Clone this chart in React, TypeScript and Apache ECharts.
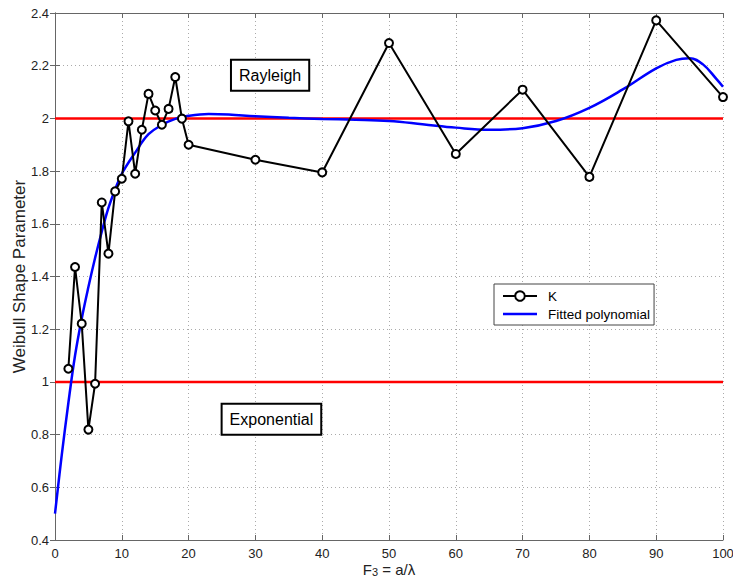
import React, { useEffect, useRef } from "react";
import * as echarts from "echarts";

const kX = [2, 3, 4, 5, 6, 7, 8, 9, 10, 11, 12, 13, 14, 15, 16, 17, 18, 19, 20, 30, 40, 50, 60, 70, 80, 90, 100];
const kY = [1.05, 1.436, 1.221, 0.819, 0.993, 1.681, 1.487, 1.723, 1.771, 1.989, 1.79, 1.957, 2.093, 2.03, 1.976, 2.036, 2.157, 1.999, 1.9, 1.843, 1.795, 2.286, 1.865, 2.109, 1.778, 2.372, 2.081];

const fitX = [0, 1, 2, 3, 4, 5, 6, 7, 8, 9, 10, 12, 14, 16, 18, 20, 23, 26, 30, 35, 40, 45, 50, 55, 60, 65, 70, 75, 80, 85, 90, 93, 95, 97, 99, 100];
const fitY = [0.5, 0.72, 0.92, 1.1, 1.24, 1.36, 1.47, 1.57, 1.66, 1.73, 1.79, 1.87, 1.94, 1.975, 1.998, 2.01, 2.017, 2.015, 2.008, 2.002, 1.998, 1.995, 1.99, 1.978, 1.965, 1.957, 1.963, 1.99, 2.04, 2.11, 2.19, 2.222, 2.228, 2.205, 2.15, 2.12];

const rayleighLevel = 2;
const exponentialLevel = 1;
const xRange = [0, 100];
const annotations = [
  { name: "Rayleigh", coord: [32.2, 2.164] },
  { name: "Exponential", coord: [32.4, 0.858] },
];

const FONT = "Liberation Sans";

export default function App() {
  const ref = useRef<HTMLDivElement>(null);
  useEffect(() => {
    const chart = echarts.init(ref.current!, null, { renderer: "svg" });
    const boxLabel = {
      show: true,
      formatter: "{b}",
      color: "#000",
      fontFamily: FONT,
      fontSize: 16,
      backgroundColor: "#fff",
      borderColor: "#000",
      borderWidth: 2,
      padding: [7, 7, 6, 7],
      position: "inside",
    };
    const axisCommon = {
      axisLine: { show: true, lineStyle: { color: "#666", width: 1 } },
      axisTick: { show: true, inside: true, length: 5, lineStyle: { color: "#666" } },
    };
    chart.setOption({
      animation: false,
      backgroundColor: "#fff",
      grid: { left: 55, right: 10, top: 13, bottom: 41, containLabel: false, outerBoundsMode: "none" },
      legend: {
        data: [
          { name: "K" },
          { name: "Fitted polynomial", icon: "path://M0,5H34V7.5H0Z" },
        ],
        orient: "vertical",
        left: 494,
        top: 284,
        width: 164,
        padding: [5, 4, 4, 8],
        itemGap: 4,
        itemWidth: 34,
        itemHeight: 12,
        borderColor: "#444",
        borderWidth: 1,
        backgroundColor: "#fff",
        textStyle: { fontFamily: FONT, fontSize: 13.5, color: "#000", padding: [0, 0, 0, 6] },
      },
      xAxis: [
        {
          type: "value",
          min: 0,
          max: 100,
          interval: 10,
          name: "F{sub|3} = a/λ",
          nameLocation: "middle",
          nameGap: 21,
          nameMoveOverlap: false,
          nameTextStyle: {
            fontFamily: FONT,
            fontSize: 15,
            color: "#222",
            lineHeight: 16,
            rich: { sub: { fontFamily: FONT, fontSize: 11, color: "#222", verticalAlign: "bottom", lineHeight: 16, padding: [7, 0, 0, 0] } },
          },
          ...axisCommon,
          axisLabel: { fontFamily: FONT, fontSize: 13, color: "#222", margin: 7 },
          splitLine: { show: true, lineStyle: { type: [1, 3], color: "#aaa", width: 1 } },
        },
        {
          type: "value",
          position: "top",
          min: 0,
          max: 100,
          interval: 10,
          ...axisCommon,
          axisLabel: { show: false },
          splitLine: { show: false },
        },
      ],
      yAxis: [
        {
          type: "value",
          min: 0.4,
          max: 2.4,
          interval: 0.2,
          name: "Weibull Shape Parameter",
          nameLocation: "middle",
          nameGap: 27,
          nameMoveOverlap: false,
          nameTextStyle: { fontFamily: FONT, fontSize: 17, color: "#222" },
          ...axisCommon,
          axisLabel: {
            fontFamily: FONT,
            fontSize: 13,
            color: "#222",
            margin: 6,
            formatter: (v: number) => String(+v.toFixed(1)),
          },
          splitLine: { show: true, lineStyle: { type: [1, 3], color: "#aaa", width: 1 } },
        },
        {
          type: "value",
          position: "right",
          min: 0.4,
          max: 2.4,
          interval: 0.2,
          ...axisCommon,
          axisLabel: { show: false },
          splitLine: { show: false },
        },
      ],
      series: [
        {
          name: "Rayleigh level",
          type: "line",
          data: xRange.map((x) => [x, rayleighLevel]),
          symbol: "none",
          lineStyle: { color: "#ff0000", width: 2.5 },
          z: 1,
          markPoint: {
            symbol: "rect",
            symbolSize: 1,
            itemStyle: { color: "transparent" },
            label: boxLabel,
            data: [{ name: annotations[0].name, coord: annotations[0].coord }],
          },
        },
        {
          name: "Exponential level",
          type: "line",
          data: xRange.map((x) => [x, exponentialLevel]),
          symbol: "none",
          lineStyle: { color: "#ff0000", width: 2.5 },
          z: 1,
          markPoint: {
            symbol: "rect",
            symbolSize: 1,
            itemStyle: { color: "transparent" },
            label: boxLabel,
            data: [{ name: annotations[1].name, coord: annotations[1].coord }],
          },
        },
        {
          name: "Fitted polynomial",
          type: "line",
          data: fitX.map((x, i) => [x, fitY[i]]),
          smooth: 0.4,
          symbol: "none",
          lineStyle: { color: "#0000ff", width: 2.5 },
          itemStyle: { color: "#0000ff" },
          z: 2,
        },
        {
          name: "K",
          type: "line",
          data: kX.map((x, i) => [x, kY[i]]),
          symbol: "circle",
          symbolSize: 8,
          lineStyle: { color: "#000", width: 2 },
          itemStyle: { color: "#fff", borderColor: "#000", borderWidth: 2 },
          z: 3,
        },
      ],
    });
    return () => chart.dispose();
  }, []);
  return (
    <div
      ref={ref}
      style={{ position: "fixed", left: 0, top: 0, width: 733, height: 581, background: "#fff" }}
    />
  );
}
